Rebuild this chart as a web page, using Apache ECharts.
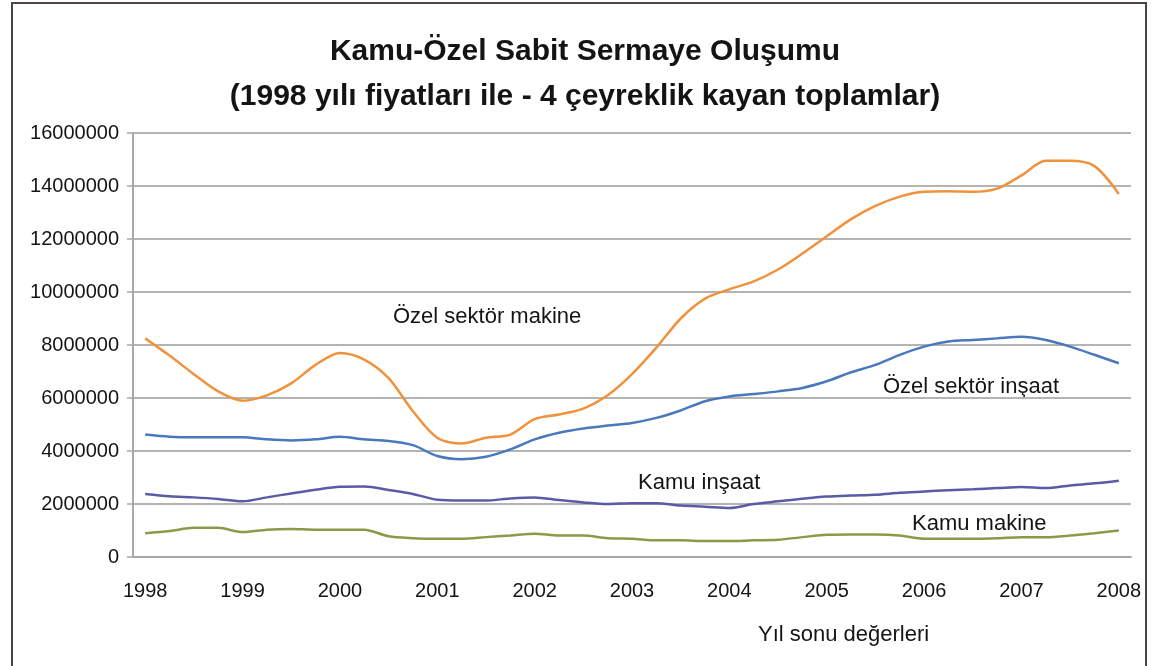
<!DOCTYPE html>
<html>
<head>
<meta charset="utf-8">
<script src="https://cdn.jsdelivr.net/npm/echarts@6/dist/echarts.min.js"></script>
<style>
  html, body { margin: 0; padding: 0; background: #fff; }
  #chart { width: 1170px; height: 666px; }
</style>
</head>
<body>
<div id="chart"></div>
<script>
// yıllar (x ekseni etiketleri), her yıl 4 çeyrek
const years = ['1998', '1999', '2000', '2001', '2002', '2003', '2004', '2005', '2006', '2007', '2008'];
const quarters = ['Ç1', 'Ç2', 'Ç3', 'Ç4'];

const ozelMakine = [
  8250000, 7600000, 6900000, 6250000, 5900000, 6100000, 6550000, 7250000, 7700000, 7450000,
  6750000, 5500000, 4500000, 4280000, 4500000, 4620000, 5200000, 5380000, 5600000, 6100000,
  6900000, 7900000, 9000000, 9750000, 10100000, 10400000, 10850000, 11450000, 12100000, 12750000,
  13250000, 13600000, 13780000, 13800000, 13780000, 13900000, 14400000, 14950000, 14950000, 14750000,
  13700000
];
const ozelInsaat = [
  4620000, 4540000, 4520000, 4520000, 4520000, 4440000, 4400000, 4440000, 4540000, 4440000,
  4380000, 4220000, 3810000, 3690000, 3780000, 4060000, 4440000, 4690000, 4850000, 4960000,
  5060000, 5250000, 5530000, 5880000, 6060000, 6150000, 6250000, 6380000, 6630000, 6970000,
  7250000, 7630000, 7940000, 8130000, 8190000, 8250000, 8310000, 8190000, 7940000, 7630000,
  7310000
];
const kamuInsaat = [
  2380000, 2290000, 2250000, 2190000, 2100000, 2250000, 2400000, 2540000, 2650000, 2660000,
  2530000, 2380000, 2160000, 2130000, 2130000, 2210000, 2250000, 2150000, 2060000, 2000000,
  2030000, 2030000, 1940000, 1900000, 1850000, 2000000, 2100000, 2200000, 2280000, 2320000,
  2350000, 2420000, 2470000, 2520000, 2560000, 2600000, 2640000, 2600000, 2700000, 2780000,
  2880000
];
const kamuMakine = [
  900000, 980000, 1100000, 1100000, 940000, 1030000, 1060000, 1030000, 1030000, 1030000,
  780000, 710000, 690000, 690000, 750000, 810000, 880000, 810000, 810000, 710000,
  690000, 630000, 630000, 600000, 600000, 630000, 650000, 750000, 840000, 850000,
  850000, 810000, 690000, 690000, 690000, 710000, 750000, 750000, 810000, 900000,
  1000000
];

// 1998Ç1 ... 2008Ç1 (41 nokta)
const categories = [];
years.forEach(function (y) {
  quarters.forEach(function (q) {
    if (categories.length < ozelMakine.length) categories.push(y + q);
  });
});

const font = '"Liberation Sans", Arial, sans-serif';
const chart = echarts.init(document.getElementById('chart'));

function lineSeries(name, data, color) {
  return {
    name: name,
    type: 'line',
    data: data,
    smooth: 0.3,
    symbol: 'none',
    lineStyle: { color: color, width: 2.5 },
    itemStyle: { color: color }
  };
}

function note(text, x, y) {
  return {
    type: 'text',
    left: x,
    top: y,
    style: { text: text, font: '22px ' + font, fill: '#141414' }
  };
}

const option = {
  backgroundColor: '#fff',
  animation: false,
  title: {
    text: 'Kamu-Özel Sabit Sermaye Oluşumu\n(1998 yılı fiyatları ile - 4 çeyreklik kayan toplamlar)',
    left: 'center',
    top: 24,
    textStyle: { fontFamily: font, fontSize: 30, fontWeight: 'bold', color: '#141414', lineHeight: 45 }
  },
  grid: { left: 133, right: 39, top: 133, bottom: 109 },
  xAxis: {
    type: 'category',
    data: categories,
    boundaryGap: true,
    axisLine: { lineStyle: { color: '#a8a8a8', width: 2 } },
    axisTick: { interval: 3, length: 6, lineStyle: { color: '#a8a8a8', width: 1.5 } },
    axisLabel: {
      interval: 3,
      margin: 24,
      fontFamily: font,
      fontSize: 20,
      color: '#141414',
      formatter: function (v) { return v.slice(0, 4); }
    }
  },
  yAxis: {
    type: 'value',
    min: 0,
    max: 16000000,
    interval: 2000000,
    axisLine: { show: true, lineStyle: { color: '#a8a8a8', width: 2 } },
    axisTick: { show: true, length: 6, lineStyle: { color: '#a8a8a8', width: 1.5 } },
    splitLine: { lineStyle: { color: '#b4b4b4', width: 2 } },
    axisLabel: {
      margin: 14,
      fontFamily: font,
      fontSize: 20,
      color: '#141414',
      formatter: function (v) { return String(v); }
    }
  },
  series: [
    lineSeries('Özel sektör makine', ozelMakine, '#f0923c'),
    lineSeries('Özel sektör inşaat', ozelInsaat, '#4a78bd'),
    lineSeries('Kamu inşaat', kamuInsaat, '#5a5aa6'),
    lineSeries('Kamu makine', kamuMakine, '#8a9a48')
  ],
  graphic: [
    {
      type: 'rect',
      shape: { x: 12, y: 3, width: 1134, height: 700 },
      style: { fill: 'none', stroke: '#4b4642', lineWidth: 2 },
      silent: true
    },
    note('Özel sektör makine', 393, 306),
    note('Özel sektör inşaat', 883, 376),
    note('Kamu inşaat', 638, 472),
    note('Kamu makine', 912, 513),
    note('Yıl sonu değerleri', 758, 624)
  ]
};
chart.setOption(option);
</script>
</body>
</html>
